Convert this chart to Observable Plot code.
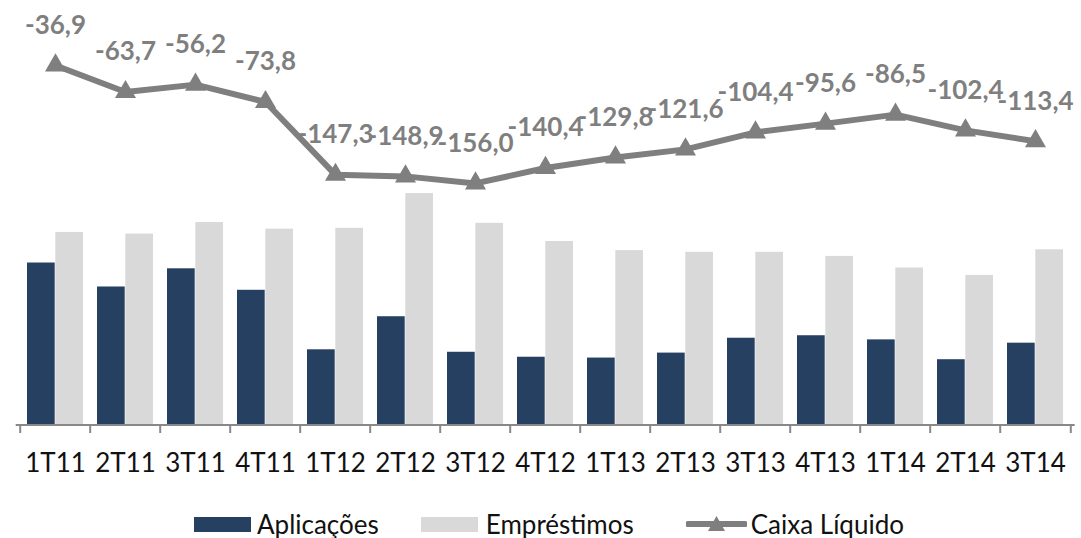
<!DOCTYPE html>
<html>
<head>
<meta charset="utf-8">
<script src="https://cdn.jsdelivr.net/npm/d3@7"></script>
<script src="https://cdn.jsdelivr.net/npm/@observablehq/plot@0.6"></script>
<style>
  html, body { margin: 0; padding: 0; background: #fff; overflow: hidden; }
  #chart { width: 1081px; }
  .legend { display: flex; align-items: center; justify-content: center; width: 1081px;
            box-sizing: border-box; padding-left: 17px; margin-top: 19px;
            font-family: Lato, "Open Sans", sans-serif; font-size: 26px; color: #111; line-height: 30px; }
  .legend .sw { display: inline-block; width: 57px; height: 15px; }
</style>
</head>
<body>
<div id="chart"></div>
<div class="legend" id="legend"></div>
<script>
// ---- data ----
const quarters = ["1T11","2T11","3T11","4T11","1T12","2T12","3T12","4T12","1T13","2T13","3T13","4T13","1T14","2T14","3T14"];
const aplicacoes = [196, 167, 189, 163, 91, 131, 88, 82, 81, 87, 105, 108, 103, 79, 99];
const emprestimos = [233, 231, 245, 237, 238, 280, 244, 222, 211, 209, 209, 204, 190, 181, 212];
const caixaLiquido = [-36.9, -63.7, -56.2, -73.8, -147.3, -148.9, -156.0, -140.4, -129.8, -121.6, -104.4, -95.6, -86.5, -102.4, -113.4];
const seriesNames = ["Aplicações", "Empréstimos", "Caixa Líquido"];

// ---- styles ----
const colDark = "#254061", colLight = "#d9d9d9", colLine = "#7f7f7f", colAxis = "#898989";
const W = 1081, H = 490;
const mL = 15.7, mR = 6.3, base = 424.5;
const pxPerUnit = 1 / 1.21;
const bw = (W - mL - mR) / quarters.length;
const outer = 7, barW = (bw - 2 * outer) / 2;

// secondary axis for the line, expressed in primary (bar) units
const y2 = d3.scaleLinear([-200, 0], [239.6, 479.2]);

const bars = [
  ...quarters.map((q, i) => ({q, s: seriesNames[0], v: aplicacoes[i]})),
  ...quarters.map((q, i) => ({q, s: seriesNames[1], v: emprestimos[i]}))
];
const line = quarters.map((q, i) => ({q, v: caixaLiquido[i]}));
const fmt = v => v.toFixed(1).replace(".", ",");

const plot = Plot.plot({
  width: W,
  height: H,
  marginLeft: mL,
  marginRight: mR,
  marginTop: 0,
  marginBottom: H - base,
  style: {fontFamily: "Lato, 'Open Sans', sans-serif", background: "#fff"},
  x: {domain: quarters, padding: 0, label: null},
  y: {domain: [0, 500], range: [base, base - 500 * pxPerUnit], axis: null},
  marks: [
    Plot.barY(bars.filter(d => d.s === seriesNames[0]), {x: "q", y: "v", fill: colDark, insetLeft: outer, insetRight: outer + barW}),
    Plot.barY(bars.filter(d => d.s === seriesNames[1]), {x: "q", y: "v", fill: colLight, insetLeft: outer + barW, insetRight: outer}),
    Plot.ruleY([0], {stroke: colAxis, strokeWidth: 2}),
    Plot.ruleX(quarters, {x: d => d, dx: -bw / 2, y1: 0, y2: -8.5 / pxPerUnit, stroke: colAxis, strokeWidth: 2}),
    Plot.ruleX([quarters[quarters.length - 1]], {x: d => d, dx: bw / 2, y1: 0, y2: -8.5 / pxPerUnit, stroke: colAxis, strokeWidth: 2}),
    Plot.axisX({tickSize: 0, tickPadding: 29, fontSize: 26, fill: "#111", label: null}),
    Plot.lineY(line, {x: "q", y: d => y2(d.v), stroke: colLine, strokeWidth: 6, strokeLinejoin: "round"}),
    Plot.dot(line, {x: "q", y: d => y2(d.v), symbol: "triangle", r: 7.8, fill: colLine, stroke: "none"}),
    Plot.text(line, {x: "q", y: d => y2(d.v), text: d => fmt(d.v), dy: -40, fontSize: 26, fontWeight: "bold", fill: colLine})
  ]
});
document.getElementById("chart").append(plot);

// ---- legend ----
const lg = document.getElementById("legend");
lg.innerHTML = `
  <span class="sw" style="background:${colDark}"></span>
  <span style="margin-left:6px">${seriesNames[0]}</span>
  <span class="sw" style="background:${colLight};margin-left:42px"></span>
  <span style="margin-left:8px">${seriesNames[1]}</span>
  <svg width="61" height="20" style="margin-left:52px">
    <line x1="2" y1="10" x2="59" y2="10" stroke="${colLine}" stroke-width="6" stroke-linecap="round"/>
    <path d="M30.5,2 L39,17 L22,17 Z" fill="${colLine}"/>
  </svg>
  <span style="margin-left:4px">${seriesNames[2]}</span>`;
</script>
</body>
</html>
